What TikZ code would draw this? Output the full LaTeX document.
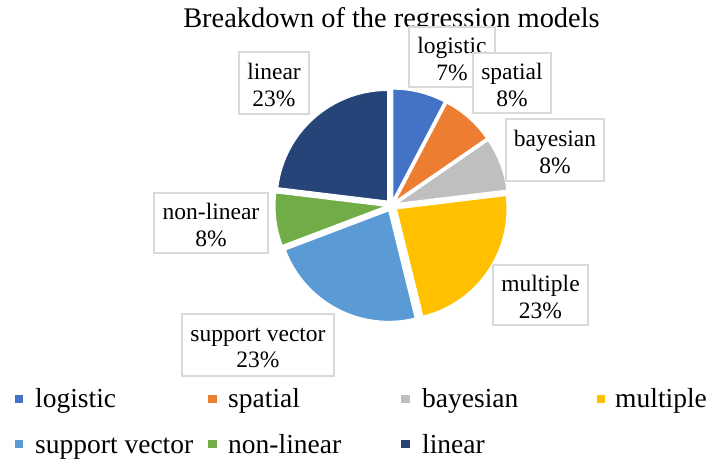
\documentclass[tikz,border=0pt]{standalone}
\usepackage{fontspec}
\setmainfont{Liberation Serif}
\usetikzlibrary{calc}
\definecolor{cLog}{HTML}{4472C4}
\definecolor{cSpa}{HTML}{ED7D31}
\definecolor{cBay}{HTML}{BFBFBF}
\definecolor{cMul}{HTML}{FFC000}
\definecolor{cSup}{HTML}{5B9BD5}
\definecolor{cNon}{HTML}{70AD47}
\definecolor{cLin}{HTML}{264478}
\definecolor{boxgray}{HTML}{D9D9D9}
\begin{document}
\begin{tikzpicture}[x=1pt,y=1pt,
  lbox/.style 2 args={draw=boxgray, line width=1.3pt, fill=white, inner sep=0pt, minimum width=#1, minimum height=#2},
  ltext/.style={align=center, inner sep=0pt, font=\fontsize{23.5pt}{26.7pt}\selectfont},
  legsq/.style={fill=#1, draw=none, inner sep=0pt, minimum size=8.5pt},
  legtext/.style={anchor=base west, inner sep=0pt, font=\fontsize{27.5pt}{30pt}\selectfont}
]
\useasboundingbox (0,0) rectangle (708,460);
\fill[white] (0,0) rectangle (708,460);

% title
\node[anchor=base, inner sep=0pt, font=\fontsize{28.4pt}{32pt}\selectfont] (title) at (391.5,432) {Breakdown of the regression models};

% pie
\coordinate (C) at (391.5,254.5);
\foreach \a/\b/\c in {90/62.3077/cLog, 62.3077/34.6154/cSpa, 34.6154/6.9231/cBay, 6.9231/-76.1538/cMul, -76.1538/-159.2308/cSup, -159.2308/-186.9231/cNon, -186.9231/-270/cLin}{
  \pgfmathsetmacro\m{(\a+\b)/2}
  \fill[\c, draw=white, line width=1pt] ($(C)+(\m:6)$) -- ++(\a:110.5) arc[start angle=\a, end angle=\b, radius=110.5] -- cycle;
}

% data labels
\node[lbox={70pt}{62pt}] (blin) at (274,377) {};
\node[ltext, yshift=-2pt] (tlin) at (blin.center) {linear\\23\%};
\node[lbox={86pt}{60pt}] (blog) at (452,403) {};
\node[ltext, yshift=-2pt] (tlog) at (blog.center) {logistic\\7\%};
\node[lbox={78pt}{60pt}] (bspa) at (512,377) {};
\node[ltext, yshift=-2pt] (tspa) at (bspa.center) {spatial\\8\%};
\node[lbox={98pt}{62pt}] (bbay) at (555,310) {};
\node[ltext, yshift=-2pt] (tbay) at (bbay.center) {bayesian\\8\%};
\node[lbox={114pt}{60pt}] (bnon) at (211,237) {};
\node[ltext, yshift=-2pt] (tnon) at (bnon.center) {non-linear\\8\%};
\node[lbox={152pt}{62pt}] (bsup) at (258,115) {};
\node[ltext, yshift=-3pt] (tsup) at (bsup.center) {support vector\\23\%};
\node[lbox={95pt}{60pt}] (bmul) at (540.5,165) {};
\node[ltext, yshift=-2pt] (tmul) at (bmul.center) {multiple\\23\%};

% legend
\node[legsq=cLog] (sq1) at (19,61) {};
\node[legtext] (lg1) at (35,53) {logistic};
\node[legsq=cSpa] (sq2) at (212.5,61) {};
\node[legtext] (lg2) at (228,53) {spatial};
\node[legsq=cBay] (sq3) at (405.5,61) {};
\node[legtext] (lg3) at (422,53) {bayesian};
\node[legsq=cMul] (sq4) at (601,61) {};
\node[legtext] (lg4) at (615,53) {multiple};
\node[legsq=cSup] (sq5) at (19,16) {};
\node[legtext] (lg5) at (35,7) {support vector};
\node[legsq=cNon] (sq6) at (212.5,16) {};
\node[legtext] (lg6) at (228,7) {non-linear};
\node[legsq=cLin] (sq7) at (405.5,16) {};
\node[legtext] (lg7) at (422,7) {linear};
\end{tikzpicture}
\end{document}
